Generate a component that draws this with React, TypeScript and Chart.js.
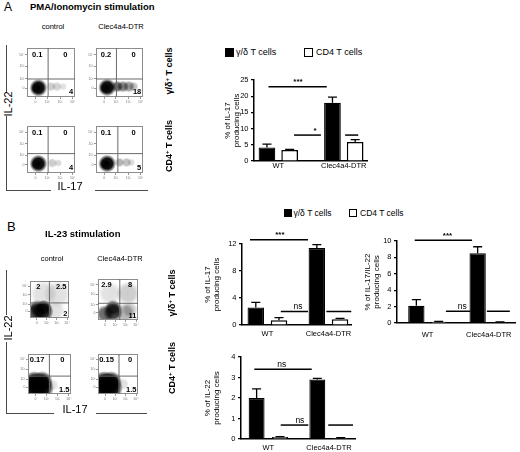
import React, { useEffect, useRef } from "react";
import { Chart, registerables } from "chart.js";

Chart.register(...registerables);
const FONT = "'Liberation Sans', Arial, Helvetica, sans-serif";
Chart.defaults.font.family = FONT;

// ---------------- bar chart data ----------------
const groups = ["WT", "Clec4a4-DTR"];
const groupPos = [0, 1];
const seriesNames = ["γ/δ T cells", "CD4 T cells"];

// A: PMA/Ionomycin, % of IL-17 producing cells
const aIl17Gd = [4.2, 18.0];
const aIl17GdErr = [1.0, 1.7];
const aIl17Cd4 = [3.4, 5.9];
const aIl17Cd4Err = [0.15, 0.7];
const aIl17Ticks = [0, 5, 10, 15, 20, 25];
const aIl17Sig = [
  { from: -0.15, to: 0.74, at: 22.9, mark: "***", markAt: 0.3 },
  { from: 0.24, to: 0.65, at: 8.0, mark: "*", markAt: 0.56 },
  { from: 1.02, to: 1.22, at: 8.0, mark: "", markAt: 1.1 },
];

// B: IL-23, % of IL-17 producing cells
const bIl17Gd = [2.6, 11.4];
const bIl17GdErr = [0.75, 0.5];
const bIl17Cd4 = [0.7, 0.85];
const bIl17Cd4Err = [0.4, 0.12];
const bIl17Ticks = [0, 4, 8, 12];
const bIl17Sig = [
  { from: -0.285, to: 0.666, at: 12.64, mark: "***", markAt: 0.204 },
  { from: 0.22, to: 0.666, at: 2.0, mark: "ns", markAt: 0.502 },
  { from: 0.966, to: 1.374, at: 2.0, mark: "", markAt: 1.1 },
];

// B: IL-23, % of IL-17/IL-22 producing cells
const bDblGd = [2.1, 8.5];
const bDblGdErr = [0.75, 0.8];
const bDblCd4 = [0.15, 0.1];
const bDblCd4Err = [0.04, 0.03];
const bDblTicks = [0, 2, 4, 6, 8, 10];
const bDblSig = [
  { from: -0.209, to: 0.727, at: 10.1, mark: "***", markAt: 0.326 },
  { from: 0.3, to: 0.7, at: 1.43, mark: "ns", markAt: 0.567 },
  { from: 0.968, to: 1.343, at: 1.43, mark: "", markAt: 1.1 },
];

// B: IL-23, % of IL-22 producing cells
const bIl22Gd = [2.0, 2.9];
const bIl22GdErr = [0.45, 0.06];
const bIl22Cd4 = [0.1, 0.05];
const bIl22Cd4Err = [0.02, 0.01];
const bIl22Ticks = [0, 1, 2, 3, 4];
const bIl22Sig = [
  { from: -0.231, to: 0.715, at: 3.4, mark: "ns", markAt: 0.22 },
  { from: 0.204, to: 0.659, at: 0.68, mark: "ns", markAt: 0.52 },
  { from: 0.988, to: 1.395, at: 0.68, mark: "", markAt: 1.1 },
];

// ---------------- flow plot data ----------------
const flowXTicks = [0.7, 1.7, 2.75, 3.8];
const flowXTickLabels = ["0", "10²", "10³", "10⁴"];
const flowYTicks = [0.7, 1.5, 2.5, 3.45];
const flowYTickLabels = ["0", "10²", "10³", "10⁴"];

// quadrant frequencies: [upper-left, upper-right, lower-right]
const aGdCtrlQuad = ["0.1", "0", "4"];
const aGdDtrQuad = ["0.2", "0", "18"];
const aCd4CtrlQuad = ["0.1", "0", "4"];
const aCd4DtrQuad = ["0.1", "0", "5"];
const bGdCtrlQuad = ["2", "2.5", "2"];
const bGdDtrQuad = ["2.9", "8", "11"];
const bCd4CtrlQuad = ["0.17", "0", "1.5"];
const bCd4DtrQuad = ["0.15", "0", "1.5"];

// quadrant gates [IL-17, IL-22] in decades
const aGdCtrlGate = [1.76, 1.47];
const aGdDtrGate = [1.74, 1.47];
const aCd4CtrlGate = [1.76, 1.65];
const aCd4DtrGate = [1.86, 1.65];
const bGdCtrlGate = [1.99, 1.63];
const bGdDtrGate = [2.18, 1.63];
const bCd4CtrlGate = [1.99, 1.79];
const bCd4DtrGate = [2.1, 1.79];

// event density clouds [IL-17, IL-22, spread, density]
const aGdCtrlCloud = [
  [0.95, 0.75, 9, 1],
  [0.75, 0.7, 5, 0.6],
  [2.0, 0.85, 5, 0.2],
  [2.5, 0.85, 5, 0.18],
  [3.0, 0.85, 4, 0.12],
];
const aGdDtrCloud = [
  [0.95, 0.78, 9, 1],
  [0.75, 0.7, 5, 0.6],
  [1.8, 0.85, 6, 0.6],
  [2.3, 0.85, 6, 0.5],
  [2.8, 0.85, 6, 0.4],
  [3.2, 0.85, 5, 0.25],
];
const aCd4CtrlCloud = [
  [0.95, 0.8, 9, 1],
  [0.75, 0.75, 5, 0.6],
  [2.1, 0.85, 5, 0.2],
  [2.6, 0.85, 4, 0.15],
];
const aCd4DtrCloud = [
  [0.95, 0.8, 9, 1],
  [0.75, 0.75, 5, 0.6],
  [2.0, 0.9, 5, 0.3],
  [2.6, 0.9, 5, 0.25],
  [3.0, 0.9, 4, 0.15],
];
const bGdCtrlCloud = [
  [0.6, 0.6, 10, 0.75],
  [1.3, 0.7, 11, 0.9],
  [1.4, 1.1, 8, 0.8],
  [0.7, 1.1, 8, 0.6],
  [1.4, 2.6, 14, 0.12],
  [2.8, 2.6, 14, 0.12],
  [2.6, 0.8, 10, 0.12],
];
const bGdDtrCloud = [
  [0.7, 0.6, 9, 0.6],
  [1.5, 0.8, 10, 0.8],
  [1.5, 1.2, 8, 0.6],
  [2.7, 0.7, 10, 0.3],
  [3.2, 1.0, 8, 0.2],
  [3.0, 2.6, 12, 0.2],
  [1.2, 2.6, 12, 0.12],
];
const bCd4CtrlCloud = [
  [0.6, 0.6, 12, 1],
  [1.3, 0.6, 12, 1],
  [0.6, 1.2, 11, 1],
  [1.3, 1.2, 11, 1],
  [2.3, 0.9, 6, 0.12],
];
const bCd4DtrCloud = [
  [0.6, 0.6, 12, 1],
  [1.3, 0.6, 12, 1],
  [0.6, 1.2, 11, 1],
  [1.3, 1.2, 11, 1],
  [2.5, 1.0, 6, 0.12],
];

// ---------------- plugins ----------------
type Sig = { from: number; to: number; at: number; mark: string; markAt: number };

function errorBarsPlugin(errs: number[][]) {
  return {
    id: "errorBars",
    afterDatasetsDraw(chart: any) {
      const { ctx } = chart;
      const ys = chart.scales.y;
      ctx.save();
      ctx.strokeStyle = "#000";
      ctx.lineWidth = 1.3;
      chart.data.datasets.forEach((ds: any, di: number) => {
        const meta = chart.getDatasetMeta(di);
        meta.data.forEach((el: any, i: number) => {
          const v = ds.data[i].y;
          const y0 = ys.getPixelForValue(v);
          const y1 = ys.getPixelForValue(v + errs[di][i]);
          ctx.beginPath();
          ctx.moveTo(el.x, y0);
          ctx.lineTo(el.x, y1);
          ctx.moveTo(el.x - 4.5, y1);
          ctx.lineTo(el.x + 4.5, y1);
          ctx.stroke();
        });
      });
      ctx.restore();
    },
  };
}

function sigPlugin(sig: Sig[]) {
  return {
    id: "sig",
    afterDraw(chart: any) {
      const { ctx } = chart;
      const xs = chart.scales.x;
      const ys = chart.scales.y;
      ctx.save();
      ctx.strokeStyle = "#000";
      ctx.fillStyle = "#000";
      ctx.lineWidth = 1.5;
      ctx.textAlign = "center";
      ctx.textBaseline = "alphabetic";
      sig.forEach((s) => {
        const yy = ys.getPixelForValue(s.at);
        ctx.beginPath();
        ctx.moveTo(xs.getPixelForValue(s.from), yy);
        ctx.lineTo(xs.getPixelForValue(s.to), yy);
        ctx.stroke();
        if (s.mark) {
          ctx.font = s.mark.startsWith("*") ? `bold 8px ${FONT}` : `8.5px ${FONT}`;
          ctx.fillText(s.mark, xs.getPixelForValue(s.markAt), yy - 2.5);
        }
      });
      ctx.restore();
    },
  };
}

function flowPlugin(gate: number[], quad: string[]) {
  return {
    id: "flowDecor",
    afterDatasetsDraw(chart: any) {
      const { ctx, chartArea: a } = chart;
      const xs = chart.scales.x;
      const ys = chart.scales.y;
      ctx.save();
      ctx.strokeStyle = "#8c8c8c";
      ctx.lineWidth = 1;
      ctx.strokeRect(a.left + 0.5, a.top + 0.5, a.width - 1, a.height - 1);
      const gx = xs.getPixelForValue(gate[0]);
      const gy = ys.getPixelForValue(gate[1]);
      ctx.strokeStyle = "#6a6a6a";
      ctx.beginPath();
      ctx.moveTo(gx, a.top);
      ctx.lineTo(gx, a.bottom);
      ctx.moveTo(a.left, gy);
      ctx.lineTo(a.right, gy);
      ctx.stroke();
      ctx.fillStyle = "#000";
      ctx.font = `bold 7.5px ${FONT}`;
      ctx.textBaseline = "middle";
      ctx.textAlign = "center";
      ctx.fillText(quad[0], xs.getPixelForValue(0.85), ys.getPixelForValue(3.4));
      ctx.fillText(quad[1], xs.getPixelForValue(3.2), ys.getPixelForValue(3.4));
      ctx.textAlign = "right";
      ctx.fillText(quad[2], xs.getPixelForValue(3.85), ys.getPixelForValue(0.42));
      ctx.restore();
    },
  };
}

const blobFill = (c: any) => {
  const raw = c.raw;
  const chart = c.chart;
  if (!raw || !chart.chartArea) return "rgba(0,0,0,0.4)";
  const px = chart.scales.x.getPixelForValue(raw.x);
  const py = chart.scales.y.getPixelForValue(raw.y);
  const g = chart.ctx.createRadialGradient(px, py, 0, px, py, raw.r);
  g.addColorStop(0, `rgba(0,0,0,${raw.d})`);
  g.addColorStop(0.6, `rgba(0,0,0,${raw.d * 0.92})`);
  g.addColorStop(0.8, `rgba(0,0,0,${raw.d * 0.45})`);
  g.addColorStop(1, "rgba(0,0,0,0)");
  return g;
};

// ---------------- components ----------------
function FlowPlot({ box, gate, quad, cloud }: { box: number[]; gate: number[]; quad: string[]; cloud: number[][] }) {
  const ref = useRef<HTMLCanvasElement>(null);
  const [bl, bt, bw, bh] = box;
  const yW = 9, xH = 8, pT = 3, pR = 3;
  const cw = yW + bw + pR;
  const ch = pT + bh + xH;
  useEffect(() => {
    const chart = new Chart(ref.current as HTMLCanvasElement, {
      type: "bubble",
      data: {
        datasets: [
          {
            data: cloud.map(([x, y, r, d]) => ({ x, y, r, d })) as any,
            backgroundColor: blobFill as any,
            borderWidth: 0,
            borderColor: "rgba(0,0,0,0)",
            clip: 0,
          } as any,
        ],
      },
      options: {
        responsive: false,
        animation: false,
        events: [],
        layout: { padding: { top: pT, right: pR, left: 0, bottom: 0 } },
        plugins: { legend: { display: false }, tooltip: { enabled: false } },
        scales: {
          x: {
            type: "linear", min: 0, max: 4,
            afterBuildTicks: (s: any) => { s.ticks = flowXTicks.map((v) => ({ value: v })); },
            ticks: { callback: (_v: any, i: number) => flowXTickLabels[i], font: { size: 3.5 }, color: "#777", padding: 0.5, autoSkip: false, maxRotation: 0 },
            grid: { drawOnChartArea: false, tickLength: 2, color: "#999" },
            border: { display: false },
            afterFit: (s: any) => { s.height = xH; },
          },
          y: {
            type: "linear", min: 0, max: 4,
            afterBuildTicks: (s: any) => { s.ticks = flowYTicks.map((v) => ({ value: v })); },
            ticks: { callback: (_v: any, i: number) => flowYTickLabels[i], font: { size: 3.5 }, color: "#777", padding: 0.5, autoSkip: false },
            grid: { drawOnChartArea: false, tickLength: 2, color: "#999" },
            border: { display: false },
            afterFit: (s: any) => { s.width = yW; },
          },
        },
      } as any,
      plugins: [flowPlugin(gate, quad)],
    });
    return () => chart.destroy();
  }, []);
  return (
    <canvas ref={ref} width={cw} height={ch}
      style={{ position: "absolute", left: bl - yW, top: bt - pT, width: cw, height: ch }} />
  );
}

type BarProps = {
  left: number; top: number; w: number; h: number; yW: number; xH: number; padT: number; padR: number;
  xMin: number; xMax: number; cat: number; bar: number; labelPad: number;
  yMax: number; ticks: number[]; title: string[];
  gd: number[]; gdErr: number[]; cd4: number[]; cd4Err: number[]; sig: Sig[];
};

function BarPanel(p: BarProps) {
  const ref = useRef<HTMLCanvasElement>(null);
  const cw = p.yW + p.w + p.padR;
  const ch = p.padT + p.h + p.xH;
  useEffect(() => {
    const chart = new Chart(ref.current as HTMLCanvasElement, {
      type: "bar",
      data: {
        datasets: [
          {
            label: seriesNames[0],
            data: groupPos.map((x, i) => ({ x, y: p.gd[i] })) as any,
            backgroundColor: "#000", borderColor: "#000", borderWidth: 1.2,
          },
          {
            label: seriesNames[1],
            data: groupPos.map((x, i) => ({ x, y: p.cd4[i] })) as any,
            backgroundColor: "#fff", borderColor: "#000", borderWidth: 1.5,
          },
        ],
      },
      options: {
        responsive: false,
        animation: false,
        events: [],
        layout: { padding: { top: p.padT, right: p.padR, left: 0, bottom: 0 } },
        datasets: { bar: { categoryPercentage: p.cat, barPercentage: p.bar } },
        plugins: { legend: { display: false }, tooltip: { enabled: false } },
        scales: {
          x: {
            type: "linear", min: p.xMin, max: p.xMax, offset: false,
            afterBuildTicks: (s: any) => { s.ticks = groupPos.map((v) => ({ value: v })); },
            ticks: {
              callback: (v: any) => { const k = groupPos.indexOf(v); return k >= 0 ? groups[k] : ""; },
              font: { size: 7.5 }, color: "#000", padding: p.labelPad, autoSkip: false, maxRotation: 0,
            },
            grid: { display: false, drawTicks: false },
            border: { display: true, color: "#000", width: 1.5 },
            afterFit: (s: any) => { s.height = p.xH; },
          },
          y: {
            min: 0, max: p.yMax,
            afterBuildTicks: (s: any) => { s.ticks = p.ticks.map((v) => ({ value: v })); },
            ticks: { font: { size: 7.5 }, color: "#000", padding: 2.5, autoSkip: false },
            grid: { drawOnChartArea: false, drawTicks: true, tickLength: 3, color: "#000", lineWidth: 1.2 },
            border: { display: true, color: "#000", width: 1.5 },
            title: { display: true, text: p.title, color: "#000", font: { size: 8, lineHeight: 1.05 }, padding: { top: 2, bottom: 0 } },
            afterFit: (s: any) => { s.width = p.yW; },
          },
        },
      } as any,
      plugins: [errorBarsPlugin([p.gdErr, p.cd4Err]), sigPlugin(p.sig)],
    });
    return () => chart.destroy();
  }, []);
  return (
    <canvas ref={ref} width={cw} height={ch}
      style={{ position: "absolute", left: p.left - p.yW, top: p.top - p.padT, width: cw, height: ch }} />
  );
}

const T = ({ x, y, s, b, children, left, rot }: any) => (
  <div
    style={{
      position: "absolute", left: x, top: y,
      transform: `translate(${left ? "0" : "-50%"}, -50%)${rot ? " rotate(-90deg)" : ""}`,
      fontSize: s, fontWeight: b ? "bold" : "normal", whiteSpace: "nowrap", lineHeight: 1, color: "#000",
    }}
  >
    {children}
  </div>
);

const L = ({ x, y, w, h }: any) => (
  <div style={{ position: "absolute", left: x, top: y, width: w, height: h, background: "#4a4a4a" }} />
);

const Sq = ({ x, y, s, fill }: any) => (
  <div style={{ position: "absolute", left: x, top: y, width: s, height: s, boxSizing: "border-box", background: fill, border: "1.3px solid #000" }} />
);

export default function App() {
  const sup = <sup style={{ fontSize: "0.65em", verticalAlign: "0.45em" }}>+</sup>;
  return (
    <div style={{ position: "fixed", left: 0, top: 0, width: 520, height: 452, background: "#fff", overflow: "hidden", fontFamily: FONT }}>
      {/* ---------- Panel A ---------- */}
      <T x={4} y={7} s={12} left>A</T>
      <T x={30} y={6.5} s={9.5} b left>PMA/Ionomycin stimulation</T>
      <T x={53} y={27} s={7.5}>control</T>
      <T x={121} y={27} s={7.5}>Clec4a4-DTR</T>

      <FlowPlot box={[27, 42, 54, 56]} gate={aGdCtrlGate} quad={aGdCtrlQuad} cloud={aGdCtrlCloud} />
      <FlowPlot box={[96, 42, 53, 56]} gate={aGdDtrGate} quad={aGdDtrQuad} cloud={aGdDtrCloud} />
      <FlowPlot box={[27, 120, 54, 54]} gate={aCd4CtrlGate} quad={aCd4CtrlQuad} cloud={aCd4CtrlCloud} />
      <FlowPlot box={[96, 120, 53, 54]} gate={aCd4DtrGate} quad={aCd4DtrQuad} cloud={aCd4DtrCloud} />

      <L x={5.5} y={45} w={1.3} h={47} />
      <T x={8} y={104} s={11} rot>IL-22</T>
      <L x={5.5} y={116} w={1.3} h={74.5} />
      <L x={5.5} y={189.5} w={45} h={1.3} />
      <T x={70} y={186} s={11}>IL-17</T>
      <L x={95} y={189.5} w={53} h={1.3} />

      <T x={169} y={71} s={9} b rot>γ/δ{sup} T cells</T>
      <T x={169} y={146} s={9} b rot>CD4{sup} T cells</T>

      <Sq x={225} y={47.5} s={9} fill="#000" />
      <T x={236} y={52} s={9} left>{seriesNames[0]}</T>
      <Sq x={304} y={47.5} s={9} fill="#fff" />
      <T x={316} y={52} s={9} left>{seriesNames[1]}</T>

      <BarPanel left={254} top={80} w={113} h={81} yW={32} xH={14} padT={8} padR={5}
        xMin={-0.371} xMax={1.354} cat={0.693} bar={0.735} labelPad={0.5}
        yMax={25} ticks={aIl17Ticks} title={["% of IL-17", "producing cells"]}
        gd={aIl17Gd} gdErr={aIl17GdErr} cd4={aIl17Cd4} cd4Err={aIl17Cd4Err} sig={aIl17Sig} />

      {/* ---------- Panel B ---------- */}
      <T x={7} y={225.5} s={13} left>B</T>
      <T x={45} y={234} s={9.5} b left>IL-23 stimulation</T>
      <T x={52} y={258.5} s={7.5}>control</T>
      <T x={120} y={258.5} s={7.5}>Clec4a4-DTR</T>

      <FlowPlot box={[25, 270, 55, 54]} gate={bGdCtrlGate} quad={bGdCtrlQuad} cloud={bGdCtrlCloud} />
      <FlowPlot box={[95, 270, 52, 54]} gate={bGdDtrGate} quad={bGdDtrQuad} cloud={bGdDtrCloud} />
      <FlowPlot box={[25, 345, 55, 53]} gate={bCd4CtrlGate} quad={bCd4CtrlQuad} cloud={bCd4CtrlCloud} />
      <FlowPlot box={[95, 345, 52, 53]} gate={bCd4DtrGate} quad={bCd4DtrQuad} cloud={bCd4DtrCloud} />

      <L x={5.5} y={270} w={1.3} h={45} />
      <T x={8} y={328} s={11} rot>IL-22</T>
      <L x={5.5} y={342} w={1.3} h={71.5} />
      <L x={5.5} y={412.5} w={48} h={1.3} />
      <T x={75} y={409} s={11}>IL-17</T>
      <L x={96} y={412.5} w={51} h={1.3} />

      <T x={172} y={293} s={9} b rot>γ/δ{sup} T cells</T>
      <T x={172} y={368} s={9} b rot>CD4{sup} T cells</T>

      <Sq x={283.5} y={208.5} s={8.5} fill="#000" />
      <T x={293.5} y={212.5} s={8.5} left>{seriesNames[0]}</T>
      <Sq x={348.5} y={208.5} s={8.5} fill="#fff" />
      <T x={360} y={212.5} s={8.5} left>{seriesNames[1]}</T>

      <BarPanel left={242} top={244} w={110} h={81} yW={40} xH={16} padT={14} padR={5}
        xMin={-0.416} xMax={1.378} cat={0.76} bar={0.712} labelPad={4.8}
        yMax={12} ticks={bIl17Ticks} title={["% of IL-17", "producing cells"]}
        gd={bIl17Gd} gdErr={bIl17GdErr} cd4={bIl17Cd4} cd4Err={bIl17Cd4Err} sig={bIl17Sig} />

      <BarPanel left={397} top={241} w={120} h={82} yW={35} xH={16} padT={10} padR={3}
        xMin={-0.498} xMax={1.428} cat={0.729} bar={0.73} labelPad={7.8}
        yMax={10} ticks={bDblTicks} title={["% of IL-17/IL-22", "producing cells"]}
        gd={bDblGd} gdErr={bDblGdErr} cd4={bDblCd4} cd4Err={bDblCd4Err} sig={bDblSig} />

      <BarPanel left={241} top={357} w={114} h={82} yW={39} xH={13} padT={10} padR={4}
        xMin={-0.45} xMax={1.428} cat={0.771} bar={0.68} labelPad={4.5}
        yMax={4} ticks={bIl22Ticks} title={["% of IL-22", "producing cells"]}
        gd={bIl22Gd} gdErr={bIl22GdErr} cd4={bIl22Cd4} cd4Err={bIl22Cd4Err} sig={bIl22Sig} />
    </div>
  );
}
